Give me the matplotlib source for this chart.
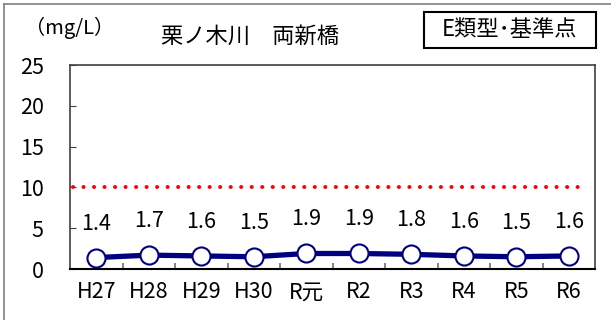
import matplotlib
matplotlib.use("Agg")
import matplotlib.pyplot as plt
from matplotlib.lines import Line2D
from matplotlib.patches import Rectangle

plt.rcParams['font.family'] = ['Noto Sans CJK JP', 'DejaVu Sans']

categories = ["H27", "H28", "H29", "H30", "R元", "R2", "R3", "R4", "R5", "R6"]
values = [1.4, 1.7, 1.6, 1.5, 1.9, 1.9, 1.8, 1.6, 1.5, 1.6]
standard = 10
yticks = [0, 5, 10, 15, 20, 25]
title = "栗ノ木川　両新橋"
unit = "（mg/L）"
badge = "E類型･基準点"

W, H = 611, 320
fig = plt.figure(figsize=(W / 100, H / 100), dpi=100)
ax = fig.add_axes([70 / W, 1 - 269 / H, 525 / W, 204 / H])

x = list(range(len(categories)))
ax.axhline(standard, color="#ff0000", lw=2.9, linestyle=(0, (0.01, 2.6)),
           dash_capstyle="round", xmin=0.005, xmax=0.985)
ax.plot(x, values, color="#000080", lw=3.8, marker="o", markersize=13,
        markerfacecolor="white", markeredgecolor="#000080", markeredgewidth=1.5,
        zorder=3, clip_on=False)
for xi, v in zip(x, values):
    ax.annotate(f"{v:.1f}", (xi, v), xytext=(0, 24.5), textcoords="offset points",
                ha="center", va="center", fontsize=15.5, color="#000000")

ax.set_xlim(-0.5, len(categories) - 0.5)
ax.set_ylim(0, 25)
ax.set_yticks(yticks)
ax.set_yticklabels([str(t) for t in yticks], fontsize=15.5)
ax.set_xticks(x)
ax.set_xticklabels(categories, fontsize=15.5)
ax.tick_params(axis="x", which="major", length=0, pad=9)
ax.set_xticks([i + 0.5 for i in x[:-1]], minor=True)
ax.tick_params(axis="x", which="minor", direction="in", length=4, color="#707070", width=1.2)
ax.tick_params(axis="y", direction="in", length=4, color="#404040", pad=19)
for s in ["left", "top", "right"]:
    ax.spines[s].set_color("#404040")
    ax.spines[s].set_linewidth(1.2)
ax.spines["bottom"].set_color("#000000")
ax.spines["bottom"].set_linewidth(1.5)

fig.text(250 / W, 1 - 36 / H, title, ha="center", va="center", fontsize=16)
fig.text(70 / W, 1 - 28 / H, unit, ha="center", va="center", fontsize=14.5)
fig.patches.append(Rectangle((424 / W, 1 - 48 / H), 172 / W, 36 / H, transform=fig.transFigure,
                             fill=False, edgecolor="#000000", lw=1.5))
fig.text(510 / W, 1 - 30 / H, badge, ha="center", va="center", fontsize=16)

fig.lines.append(Line2D([3.5 / W, 3.5 / W], [0, 1 - 3.5 / H], transform=fig.transFigure,
                        color="#808080", lw=1.2))
fig.lines.append(Line2D([3.5 / W, 1], [1 - 3.5 / H, 1 - 3.5 / H], transform=fig.transFigure,
                        color="#808080", lw=1.2))

fig.savefig("out.png", dpi=100)
